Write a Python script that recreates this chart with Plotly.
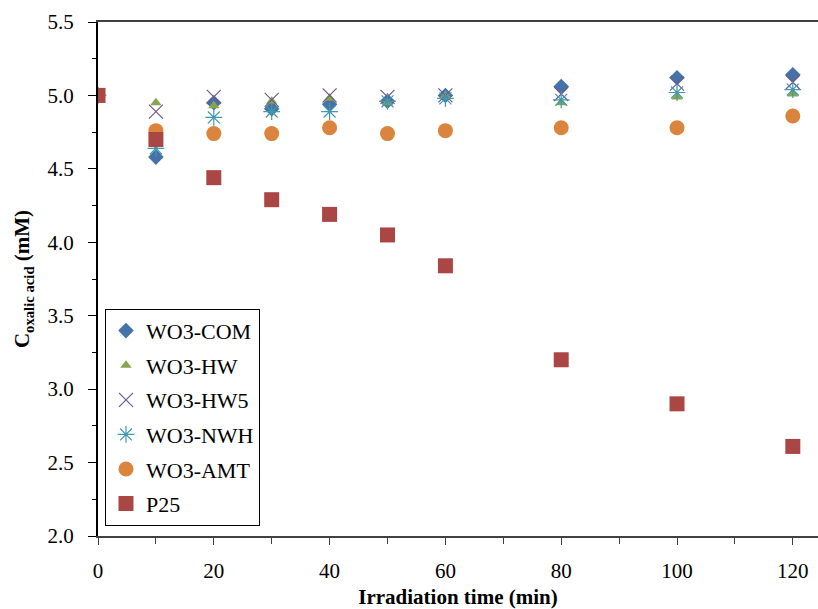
import plotly.graph_objects as go

time = [0, 10, 20, 30, 40, 50, 60, 80, 100, 120]
wo3_com = [5.00, 4.58, 4.95, 4.91, 4.94, 4.96, 5.00, 5.06, 5.12, 5.14]
wo3_hw = [5.00, 4.95, 4.93, 4.96, 4.98, 4.95, 5.00, 4.95, 4.99, 5.01]
wo3_hw5 = [5.00, 4.89, 4.99, 4.97, 5.00, 4.99, 5.00, 5.01, 5.08, 5.09]
wo3_nwh = [5.00, 4.64, 4.85, 4.89, 4.89, 4.96, 4.98, 4.97, 5.02, 5.04]
wo3_amt = [5.00, 4.76, 4.74, 4.74, 4.78, 4.74, 4.76, 4.78, 4.78, 4.86]
p25 = [5.00, 4.70, 4.44, 4.29, 4.19, 4.05, 3.84, 3.20, 2.90, 2.61]

series = [
    ("WO3-COM", wo3_com, "diamond", "#4572A7", 12),
    ("WO3-HW", wo3_hw, "triangle-up", "#89A54E", 10),
    ("WO3-HW5", wo3_hw5, "x-thin-open", "#71588F", 14),
    ("WO3-NWH", wo3_nwh, "asterisk-open", "#4198AF", 14),
    ("WO3-AMT", wo3_amt, "circle", "#DB843D", 15),
    ("P25", p25, "square", "#AA4643", 15),
]

fig = go.Figure()
for name, vals, sym, col, sz in series:
    marker = dict(symbol=sym, color=col, size=sz)
    if sym.endswith("open"):
        marker["line"] = dict(color=col, width=1.2)
    else:
        marker["line"] = dict(width=0)
    fig.add_trace(go.Scatter(x=time, y=vals, mode="markers", name=name,
                             marker=marker, legendgroup=name))

font_family = "Liberation Serif"
fig.update_layout(
    width=818, height=609,
    margin=dict(l=98, r=0, t=22, b=73),
    plot_bgcolor="white", paper_bgcolor="white",
    font=dict(family=font_family, size=20, color="black"),
    showlegend=True,
    legend=dict(x=0.0097, y=0.442, xanchor="left", yanchor="top",
                bordercolor="black", borderwidth=1, bgcolor="white",
                font=dict(family=font_family, size=22, color="black"),
                traceorder="grouped", tracegroupgap=3,
                itemwidth=30),
    xaxis=dict(range=[0, 124.35], tickvals=[0, 20, 40, 60, 80, 100, 120],
               showgrid=False, zeroline=False,
               showline=True, linecolor="#404040", linewidth=1.5, mirror=True,
               ticks="outside", ticklen=7, tickcolor="#404040", tickwidth=1.2,
               ticklabelstandoff=8,
               minor=dict(tickvals=[10, 30, 50, 70, 90, 110], ticks="outside",
                          ticklen=6, tickcolor="#404040", tickwidth=1.2),
               tickfont=dict(family=font_family, size=21),
               title=dict(text="<b>Irradiation time (min)</b>",
                          font=dict(family=font_family, size=21), standoff=8)),
    yaxis=dict(range=[2.0, 5.5], dtick=0.5, tickformat=".1f",
               showgrid=False, zeroline=False,
               showline=True, linecolor="black", linewidth=2,
               ticks="outside", ticklen=8, tickcolor="black", tickwidth=1.2,
               ticklabelstandoff=10,
               minor=dict(dtick=0.25, ticks="outside", ticklen=4,
                          tickcolor="black", tickwidth=1.2),
               tickfont=dict(family=font_family, size=21),
               title=dict(text="<b>C<sub>oxalic acid</sub> (mM)</b>",
                          font=dict(family=font_family, size=21), standoff=12)),
)

fig.write_html("out.html")
